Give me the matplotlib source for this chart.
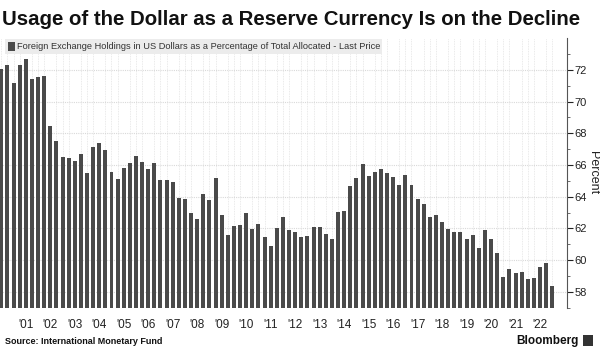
import matplotlib
matplotlib.use("Agg")
import matplotlib.pyplot as plt
from matplotlib.ticker import FixedLocator
from matplotlib.patches import Rectangle

# Quarterly data, 2000 Q2 .. 2022 Q4
start_year, start_q = 2000, 2
values = [
    72.04, 72.31, 71.16, 72.31, 72.69, 71.41, 71.52, 71.64, 68.49, 67.53,
    66.52, 66.44, 66.27, 66.69, 65.49, 67.13, 67.42, 66.92, 65.55, 65.15,
    65.84, 66.10, 66.54, 66.18, 65.72, 66.16, 65.07, 65.07, 64.92, 63.91,
    63.89, 62.97, 62.61,
    64.19, 63.81, 65.19, 62.84, 61.60, 62.15, 62.19, 62.97, 61.98, 62.28,
    61.46, 60.91, 62.04, 62.74, 61.90, 61.79, 61.46, 61.54, 62.09, 62.11,
    61.67, 61.33, 63.05, 63.11, 64.67, 65.19, 66.06, 65.34, 65.57, 65.76,
    65.47,
    65.26, 64.73, 65.36, 64.73, 63.85, 63.56, 62.74, 62.82, 62.42, 61.96,
    61.79, 61.81, 61.33, 61.62, 60.78, 61.90, 61.33, 60.47, 58.96, 59.46,
    59.21, 59.27, 58.83, 58.89, 59.59, 59.84, 58.39,
]
quarters = []
y, q = start_year, start_q
for _ in values:
    quarters.append(f"{y}Q{q}")
    q += 1
    if q > 4:
        q, y = 1, y + 1

year_labels = ["'01", "'02", "'03", "'04", "'05", "'06", "'07", "'08", "'09", "'10", "'11",
               "'12", "'13", "'14", "'15", "'16", "'17", "'18", "'19", "'20", "'21", "'22"]
year_label_quarters = [f"20{lab[1:]}Q2" for lab in year_labels]

title = "Usage of the Dollar as a Reserve Currency Is on the Decline"
legend_label = "Foreign Exchange Holdings in US Dollars as a Percentage of Total Allocated - Last Price"
source = "Source: International Monetary Fund"

plt.rcParams['font.family'] = ['Liberation Sans', 'DejaVu Sans']

fig = plt.figure(figsize=(6, 3.6), dpi=100)
ax = fig.add_axes([0.0, 0.145, 0.945, 0.749])

x = list(range(len(values)))
ax.bar(x, [v - 57 for v in values], bottom=57, width=0.65, color='#4a4a4a', zorder=3)

ax.set_xlim(-0.21, 92.4)
ax.set_ylim(57, 74)

# gridlines
ax.yaxis.set_major_locator(FixedLocator([58, 60, 62, 64, 66, 68, 70, 72]))
ax.yaxis.set_minor_locator(FixedLocator([57, 59, 61, 63, 65, 67, 69, 71, 73]))
ax.set_xticks(x, minor=True)
ax.grid(axis='y', which='major', color='#d9d9d9', linestyle=(0, (1, 1)), linewidth=0.8, zorder=0)
ax.grid(axis='x', which='minor', color='#e3e3e3', linestyle=(0, (1, 1)), linewidth=0.6, zorder=0)

tick_pos = [quarters.index(qq) for qq in year_label_quarters]
ax.set_xticks(tick_pos)
ax.set_xticklabels(year_labels)
ax.tick_params(axis='x', which='both', length=0, labelsize=8.5, pad=8, colors='#222222')

ax.yaxis.tick_right()
ax.tick_params(axis='y', which='major', length=4, width=0.8, labelsize=8, colors='#222222', pad=1.5)
ax.tick_params(axis='y', which='minor', length=2, width=0.6, color='#555555')

fig.text(0.988, 0.52, "Percent", rotation=270, fontsize=9, color='#222222',
         va='center', ha='center')

for s in ['top', 'left', 'bottom']:
    ax.spines[s].set_visible(False)
ax.spines['right'].set_color('#555555')
ax.spines['right'].set_linewidth(0.8)

# legend box
ax.add_patch(Rectangle((0.008, 0.94), 0.666, 0.058, transform=ax.transAxes,
                       facecolor='#ececec', edgecolor='none', zorder=4))
ax.add_patch(Rectangle((0.014, 0.954), 0.012, 0.03, transform=ax.transAxes,
                       facecolor='#4a4a4a', edgecolor='none', zorder=5))
ax.text(0.03, 0.968, legend_label, transform=ax.transAxes, fontsize=6.65,
        va='center', ha='left', color='#333333', zorder=6)

fig.text(0.003, 0.945, title, fontsize=14.7, fontweight='bold', va='center', ha='left', color='#111111')
fig.text(0.008, 0.05, source, fontsize=6.5, fontweight='bold', va='center', ha='left', color='#111111')
fig.text(0.965, 0.053, "Bloomberg", fontsize=8.5, fontweight='bold', va='center', ha='right', color='#111111')
fig.patches.append(Rectangle((0.972, 0.04), 0.017, 0.03, transform=fig.transFigure,
                             facecolor='#333333', edgecolor='none'))

fig.savefig("out.png", dpi=100)
